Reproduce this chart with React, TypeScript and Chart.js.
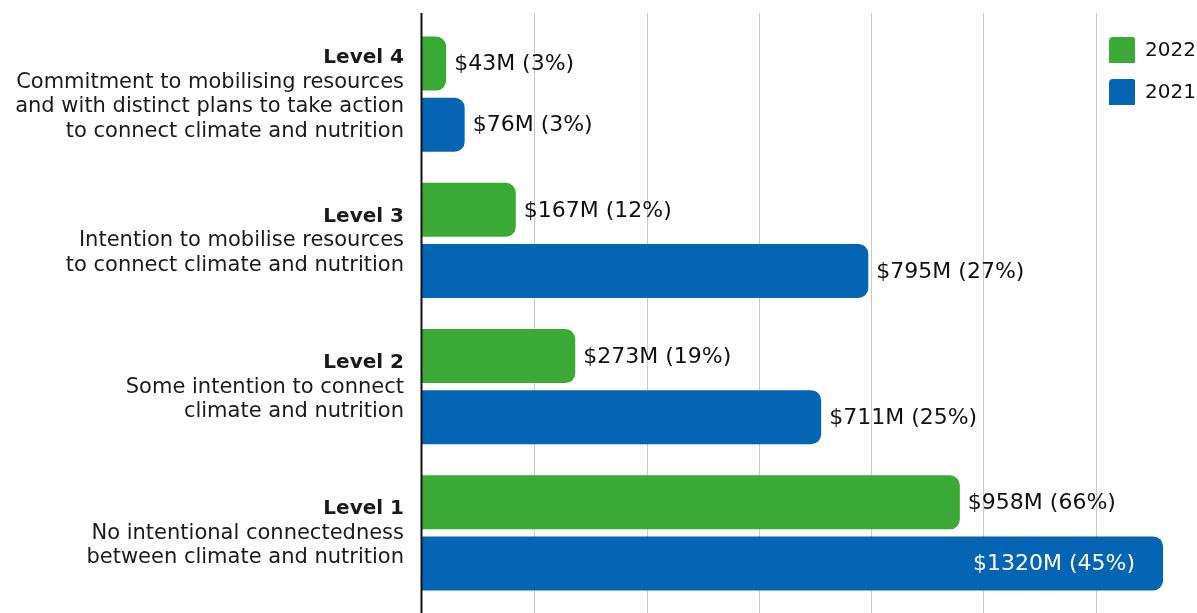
import { useEffect, useRef } from "react";
import { Chart, registerables } from "chart.js";

Chart.register(...registerables);

const categories = ["Level 4", "Level 3", "Level 2", "Level 1"];
const descriptions = [
  ["Commitment to mobilising resources", "and with distinct plans to take action", "to connect climate and nutrition"],
  ["Intention to mobilise resources", "to connect climate and nutrition"],
  ["Some intention to connect", "climate and nutrition"],
  ["No intentional connectedness", "between climate and nutrition"],
];
const seriesNames = ["2022", "2021"];
const values2022 = [43, 167, 273, 958];
const values2021 = [76, 795, 711, 1320];
const pct2022 = [3, 12, 19, 66];
const pct2021 = [3, 27, 25, 45];
const xTicks = [0, 200, 400, 600, 800, 1000, 1200, 1400];

const GREEN = "#3aa935";
const BLUE = "#0564b4";
const FONT = "'DejaVu Sans', sans-serif";
const VISIBLE_RIGHT = 1190;

const gridPlugin = {
  id: "customGrid",
  beforeDatasetsDraw(chart: any) {
    const { ctx, scales } = chart;
    const x = scales.x;
    ctx.save();
    ctx.strokeStyle = "#c9c9c9";
    ctx.lineWidth = 1;
    xTicks.forEach((t) => {
      if (t === 0) return;
      const px = Math.round(x.getPixelForValue(t)) + 0.5;
      ctx.beginPath();
      ctx.moveTo(px, 13);
      ctx.lineTo(px, chart.height);
      ctx.stroke();
    });
    ctx.restore();
  },
  afterDatasetsDraw(chart: any) {
    const { ctx, scales } = chart;
    const px = scales.x.getPixelForValue(0) - 0.5;
    ctx.save();
    ctx.strokeStyle = "#111";
    ctx.lineWidth = 2;
    ctx.beginPath();
    ctx.moveTo(px, 13);
    ctx.lineTo(px, chart.height);
    ctx.stroke();
    ctx.restore();
  },
};

const labelPlugin = {
  id: "customLabels",
  afterDatasetsDraw(chart: any) {
    const { ctx } = chart;
    const pcts = [pct2022, pct2021];
    ctx.save();
    ctx.font = `22px ${FONT}`;
    ctx.textBaseline = "middle";
    chart.data.datasets.forEach((ds: any, di: number) => {
      const meta = chart.getDatasetMeta(di);
      meta.data.forEach((bar: any, i: number) => {
        const text = `$${ds.data[i]}M (${pcts[di][i]}%)`;
        const w = ctx.measureText(text).width;
        if (bar.x + 8 + w > VISIBLE_RIGHT) {
          ctx.fillStyle = "#ffffff";
          ctx.textAlign = "right";
          ctx.fillText(text, bar.x - 28, bar.y + 1);
        } else {
          ctx.fillStyle = "#111111";
          ctx.textAlign = "left";
          ctx.fillText(text, bar.x + 8, bar.y + 1);
        }
      });
    });

    // category labels
    const y = chart.scales.y;
    const lineH = 24.3;
    ctx.textAlign = "right";
    ctx.fillStyle = "#1a1a1a";
    categories.forEach((cat, i) => {
      const lines = [cat, ...descriptions[i]];
      const cy = y.getPixelForValue(i) + 0.5;
      const startY = cy - ((lines.length - 1) * lineH) / 2;
      lines.forEach((ln, li) => {
        ctx.font = li === 0 ? `bold 20px ${FONT}` : `21px ${FONT}`;
        ctx.fillText(ln, 404, startY + li * lineH);
      });
    });

    // legend
    const colors = [GREEN, BLUE];
    const legendY = [37, 79];
    seriesNames.forEach((name, i) => {
      ctx.fillStyle = colors[i];
      ctx.beginPath();
      (ctx as any).roundRect(1109, legendY[i], 26, 26, [4, 2, 0, 0]);
      ctx.fill();
      ctx.fillStyle = "#111111";
      ctx.textAlign = "left";
      ctx.font = `20px ${FONT}`;
      ctx.fillText(name, 1145, legendY[i] + 14);
    });
    ctx.restore();
  },
};

const barRadius = { topLeft: 0, bottomLeft: 0, topRight: 10, bottomRight: 10 };

export default function App() {
  const ref = useRef<HTMLCanvasElement>(null);
  useEffect(() => {
    const chart = new Chart(ref.current as HTMLCanvasElement, {
      type: "bar",
      data: {
        labels: categories,
        datasets: [
          {
            label: seriesNames[0],
            data: values2022,
            backgroundColor: GREEN,
            borderWidth: 0,
            borderRadius: barRadius,
            borderSkipped: false,
            categoryPercentage: 0.835,
            barPercentage: 0.885,
          },
          {
            label: seriesNames[1],
            data: values2021,
            backgroundColor: BLUE,
            borderWidth: 0,
            borderRadius: barRadius,
            borderSkipped: false,
            categoryPercentage: 0.835,
            barPercentage: 0.885,
          },
        ],
      },
      options: {
        indexAxis: "y",
        responsive: false,
        animation: false,
        layout: { padding: { left: 422, right: 0, top: 21, bottom: 7 } },
        scales: {
          x: { display: false, min: 0, max: 1400 },
          y: { display: false },
        },
        plugins: {
          legend: { display: false },
          tooltip: { enabled: false },
        },
      } as any,
      plugins: [gridPlugin, labelPlugin],
    });
    return () => chart.destroy();
  }, []);
  return (
    <div
      style={{
        position: "fixed",
        left: 0,
        top: 0,
        width: 1197,
        height: 613,
        overflow: "hidden",
        background: "#fff",
      }}
    >
      <canvas ref={ref} width={1208} height={613} style={{ display: "block" }} />
    </div>
  );
}
